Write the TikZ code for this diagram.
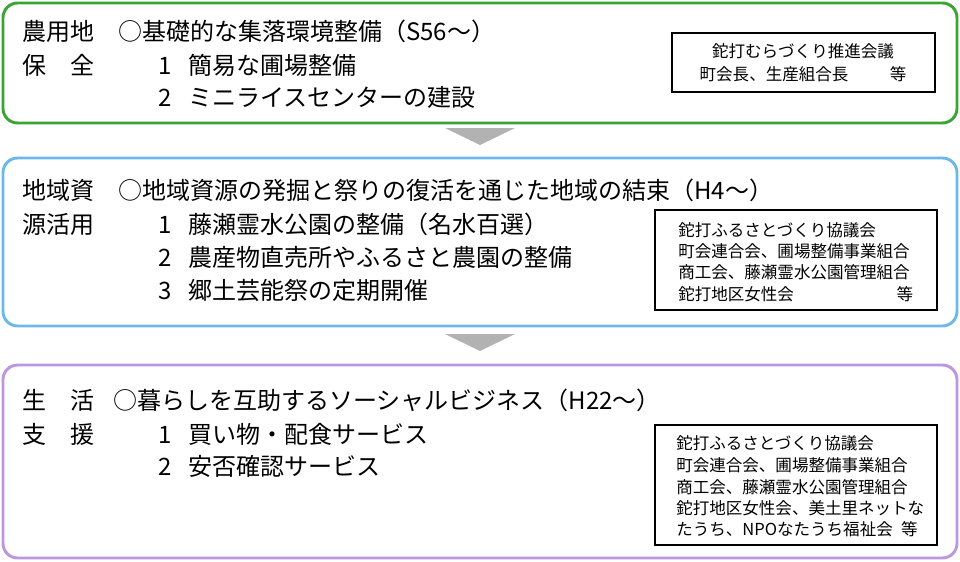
\documentclass[tikz,border=0pt]{standalone}
\usepackage{fontspec}
\setmainfont{Noto Sans CJK JP}
\begin{document}
\begin{tikzpicture}[x=0.75pt,y=-0.75pt,
  outer/.style={line width=2.2pt,rounded corners=11pt},
  t/.style={anchor=west,inner sep=0pt,font=\fontsize{18}{20}\selectfont},
  s/.style={anchor=west,inner sep=0pt,font=\fontsize{12.4}{14}\selectfont},
  ibox/.style={draw,line width=0.9pt},
  tri/.style={fill=black!30}]
\useasboundingbox (0,0) rectangle (960,561);
\definecolor{g}{HTML}{3AA535}\definecolor{b}{HTML}{6CB8E6}\definecolor{p}{HTML}{BC96DE}
\draw[outer,g] (3,3) rectangle (957,123);
\draw[outer,b] (3,158) rectangle (957,326);
\draw[outer,p] (3,365) rectangle (957,558);
\fill[tri] (445,128) -- (515,128) -- (480,145) -- cycle;
\fill[tri] (445,334) -- (515,334) -- (480,351) -- cycle;
% box1
\node[t] (a1) at (22,31) {農用地};
\node[t] (a2) at (22,65) {保　全};
\node[t] (a3) at (118,31) {○基礎的な集落環境整備（S56～）};
\node[t] (a4) at (158,65) {1\hspace{0.7em}簡易な圃場整備};
\node[t] (a5) at (158,97) {2\hspace{0.7em}ミニライスセンターの建設};
\draw[ibox] (672,33) rectangle (935,92);
\node[s,anchor=center] (i1) at (803,51) {鉈打むらづくり推進会議};
\node[s,anchor=center] (i2) at (803,74) {町会長、生産組合長\hspace{2.5em}等};
% box2
\node[t] (b1) at (22,190) {地域資};
\node[t] (b2) at (22,224) {源活用};
\node[t] (b3) at (118,190) {○地域資源の発掘と祭りの復活を通じた地域の結束（H4～）};
\node[t] (b4) at (158,224) {1\hspace{0.7em}藤瀬霊水公園の整備（名水百選）};
\node[t] (b5) at (158,257) {2\hspace{0.7em}農産物直売所やふるさと農園の整備};
\node[t] (b6) at (158,290) {3\hspace{0.7em}郷土芸能祭の定期開催};
\draw[ibox] (655,210) rectangle (937,310);
\node[s] (j1) at (678,230) {鉈打ふるさとづくり協議会};
\node[s] (j2) at (678,251) {町会連合会、圃場整備事業組合};
\node[s] (j3) at (678,272) {商工会、藤瀬霊水公園管理組合};
\node[s] (j4) at (678,294) {鉈打地区女性会\hspace{6.2em}等};
% box3
\node[t] (c1) at (22,400) {生　活};
\node[t] (c2) at (22,434) {支　援};
\node[t] (c3) at (113,400) {○暮らしを互助するソーシャルビジネス（H22～）};
\node[t] (c4) at (158,434) {1\hspace{0.7em}買い物・配食サービス};
\node[t] (c5) at (158,466) {2\hspace{0.7em}安否確認サービス};
\draw[ibox] (655,425) rectangle (937,545);
\node[s] (k1) at (676,443) {鉈打ふるさとづくり協議会};
\node[s] (k2) at (676,465) {町会連合会、圃場整備事業組合};
\node[s] (k3) at (676,487) {商工会、藤瀬霊水公園管理組合};
\node[s] (k4) at (676,508) {鉈打地区女性会、美土里ネットな};
\node[s] (k5) at (676,529) {たうち、NPOなたうち福祉会\hspace{0.5em}等};
\end{tikzpicture}
\end{document}
